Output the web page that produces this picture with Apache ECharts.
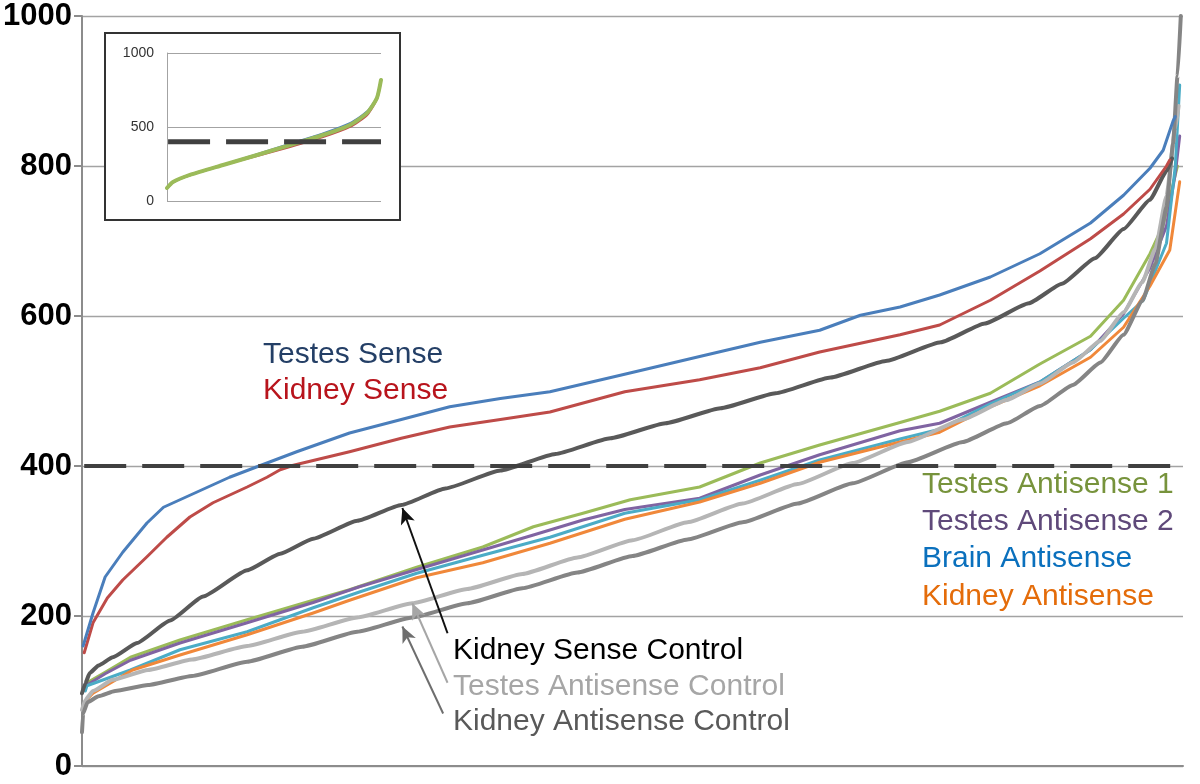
<!DOCTYPE html>
<html>
<head>
<meta charset="utf-8">
<script src="https://cdn.jsdelivr.net/npm/echarts@6/dist/echarts.min.js"></script>
<style>html,body{margin:0;padding:0;background:#fff}#c{width:1200px;height:784px}</style>
</head>
<body>
<div id="c"></div>
<script>
// ---- data: [rank percentile, value] ----
var testesSense = [[0.1,160],[1.0,204],[2.1,252],[3.7,285],[5.9,324],[7.4,345],[10.4,365],[13.4,385],[15.9,399],[19.5,419],[24.3,444],[29.0,462],[33.4,479],[38.0,490],[42.5,499],[48.9,521],[56.1,546],[61.6,565],[67.0,581],[70.7,601],[74.3,612],[77.9,628],[82.5,652],[87.0,683],[91.6,724],[94.6,761],[97.0,797],[98.2,821],[99.1,860],[99.3,866]];
var kidneySense = [[0.2,151],[1.0,191],[2.3,224],[3.7,248],[5.9,279],[7.7,305],[9.8,332],[11.9,351],[15.0,372],[16.8,385],[18.0,395],[19.2,401],[24.3,419],[29.0,437],[33.4,452],[38.0,462],[42.5,472],[49.3,499],[56.1,515],[61.6,531],[67.0,552],[74.3,575],[77.9,588],[82.5,621],[87.0,660],[91.6,703],[94.6,736],[97.0,769],[98.5,800],[98.8,808]];
var kidneySenseControl = [[0,97],[0.3,110],[0.7,124],[1.5,134],[2.8,145],[5,164],[8,194],[11,226],[15,261],[18,283],[21,303],[25,327],[29,348],[33,370],[38,394],[43,416],[48,437],[53,457],[58,477],[63,497],[68,518],[73,540],[78,565],[82,590],[86,617],[89,643],[92,677],[94.6,716],[97,755],[98.5,793],[99.0,810]];
var testesAntisense1 = [[0.45,111],[2.1,125],[4.4,145],[8.9,168],[15.0,195],[21.0,221],[24.3,235],[30.4,265],[36.4,292],[41.0,319],[45.5,337],[49.8,355],[56.1,372],[61.6,404],[67.0,428],[74.3,458],[77.9,473],[82.5,497],[87.0,536],[91.6,573],[94.6,621],[97.0,683],[98.2,721],[99.0,770],[99.5,800]];
var testesAntisense2 = [[0.45,108],[2.1,123],[4.4,141],[8.9,164],[15.0,191],[21.0,218],[25.2,239],[30.4,262],[36.4,288],[41.0,308],[45.5,328],[49.3,342],[56.1,357],[61.6,388],[67.0,415],[74.3,447],[77.9,457],[82.5,485],[87.0,512],[91.6,555],[94.6,603],[97.0,664],[98.5,720],[99.3,790],[99.7,840]];
var brainAntisense = [[0.3,100],[0.45,107],[4.4,128],[8.9,155],[15.0,179],[21.0,211],[25.2,232],[30.4,257],[36.4,281],[42.5,305],[49.3,337],[56.1,355],[61.6,381],[67.0,408],[74.3,436],[77.9,449],[82.5,483],[87.0,512],[91.6,555],[94.6,597],[96.4,621],[98.5,697],[99.3,800],[99.7,908]];
var kidneyAntisense = [[0.4,88],[1.0,97],[4.6,128],[8.9,148],[15.0,175],[21.0,204],[24.3,221],[30.4,251],[36.4,271],[42.5,297],[49.3,329],[56.1,352],[61.6,377],[67.0,405],[74.3,432],[77.9,445],[82.5,479],[87.0,507],[91.6,545],[94.6,585],[97.0,640],[98.8,688],[99.7,779]];
var testesAntisenseControl = [[0,75],[0.3,88],[1,100],[2.8,115],[6,128],[10,142],[15,160],[20,179],[25,198],[30,217],[35,236],[40,256],[45,278],[50,301],[55,325],[60,350],[65,376],[70,404],[75,432],[80,462],[84,488],[87,510],[90,538],[92.5,567],[94.6,605],[96.3,645],[97.5,690],[98.5,760],[99.3,850],[99.6,880]];
var kidneyAntisenseControl = [[0,45],[0.1,70],[0.5,85],[1.5,93],[3,100],[6,108],[10,120],[15,139],[20,159],[25,179],[30,198],[35,217],[40,237],[45,258],[50,280],[55,302],[60,325],[65,350],[70,377],[75,405],[80,432],[84,457],[87,480],[90,508],[92.5,538],[94.6,575],[96.3,620],[97.5,670],[98.5,745],[99.1,830],[99.5,920],[99.8,1000]];
var thresholdLine = [[0.2,400],[100,400]];
// inset
var insetX = [0,2.8,10.7,26.2,42.1,57.5,72.9,85.5,93.5,98.1,100];
var insetGreen = [88,128,176,243,311,378,446,514,595,696,818];
var insetRed = [88,128,176,243,305,366,433,502,582,690,815];
var insetBlue = [88,128,176,243,315,386,455,524,603,700,820];
var insetThreshold = [[0.5,400],[100,400]];
var yTicksMain = {min:0, max:1000, interval:200};
var yTicksInset = {min:0, max:1000, interval:500};

function zip(xs, ys){ return xs.map(function(x,i){return [x, ys[i]];}); }
function plain(v){ return String(v); }

var FONT = 'Liberation Sans, Arial, Helvetica, sans-serif';
var chart = echarts.init(document.getElementById('c'));

function line(name, data, color, width, z, extra){
  var s = {name:name, type:'line', data:data, showSymbol:false, symbol:'none',
    smooth:false, lineStyle:{color:color, width:width, join:'round', cap:'round'}, z:z, silent:true};
  if (extra) for (var k in extra) s[k]=extra[k];
  return s;
}
var smoothCtl = {smooth:0.15, smoothMonotone:'x'};

var arrows = [
  [{coord:[33.2,177]},{coord:[29.1,344], lineStyle:{color:'#111'}}],
  [{coord:[33.2,111]},{coord:[30.0,217], lineStyle:{color:'#a6a6a6'}}],
  [{coord:[32.8,70]},{coord:[29.1,186], lineStyle:{color:'#6e6e6e'}}]
];

var option = {
  animation:false,
  backgroundColor:'#fff',
  grid:[
    {left:82, right:17, top:16, bottom:18, outerBoundsMode:'none', containLabel:false},
    {left:167, top:53, width:214, height:148, z:2, outerBoundsMode:'none', containLabel:false}
  ],
  xAxis:[
    {type:'value', gridIndex:0, min:0, max:100, axisLabel:{show:false}, axisTick:{show:false}, splitLine:{show:false},
      axisLine:{show:true, lineStyle:{color:'#8c8c8c', width:2}}},
    {type:'value', gridIndex:1, min:0, max:100, axisLabel:{show:false}, axisTick:{show:false}, splitLine:{show:false},
      axisLine:{show:false}, z:2}
  ],
  yAxis:[
    {type:'value', gridIndex:0, min:yTicksMain.min, max:yTicksMain.max, interval:yTicksMain.interval,
      axisLine:{show:true, lineStyle:{color:'#8c8c8c', width:2}},
      axisTick:{show:true, length:8, lineStyle:{color:'#8c8c8c', width:2}},
      axisLabel:{color:'#000', fontSize:31, fontWeight:'bold', fontFamily:FONT, margin:10, formatter:plain},
      splitLine:{show:true, lineStyle:{color:'#a3a3a3', width:1.3}}},
    {type:'value', gridIndex:1, min:yTicksInset.min, max:yTicksInset.max, interval:yTicksInset.interval, z:2,
      axisLine:{show:true, lineStyle:{color:'#a3a3a3', width:1}},
      axisTick:{show:false},
      axisLabel:{color:'#333', fontSize:14, fontFamily:FONT, margin:13, formatter:plain},
      splitLine:{show:true, lineStyle:{color:'#a3a3a3', width:1}}}
  ],
  series:[
    line('Testes Antisense 1', testesAntisense1, '#9bbb59', 3, 3),
    line('Testes Antisense 2', testesAntisense2, '#8064a2', 3, 3),
    line('Brain Antisense', brainAntisense, '#4bacc6', 3, 3),
    line('Kidney Antisense', kidneyAntisense, '#f0883a', 3, 3),
    line('Testes Antisense Control', testesAntisenseControl, '#b5b5b5', 4, 4, smoothCtl),
    line('Kidney Antisense Control', kidneyAntisenseControl, '#858585', 4, 4, smoothCtl),
    line('Kidney Sense Control', kidneySenseControl, '#595959', 4, 4, smoothCtl),
    line('Kidney Sense', kidneySense, '#be4b48', 3, 4),
    line('Testes Sense', testesSense, '#4a7ebb', 3, 4),
    {name:'threshold', type:'line', data:thresholdLine, showSymbol:false, symbol:'none', z:6, silent:true,
      lineStyle:{color:'#404040', width:4, type:[42,16]},
      markLine:{silent:true, symbol:['none','arrow'], symbolSize:[11,16], label:{show:false},
        lineStyle:{width:2, type:'solid'}, data:arrows}},
    line('inset red', zip(insetX, insetRed), '#c0504d', 2.5, 6, {xAxisIndex:1, yAxisIndex:1, smooth:0.2}),
    line('inset blue', zip(insetX, insetBlue), '#4f81bd', 2.5, 6, {xAxisIndex:1, yAxisIndex:1, smooth:0.2}),
    line('inset green', zip(insetX, insetGreen), '#9bbb59', 4, 7, {xAxisIndex:1, yAxisIndex:1, smooth:0.2}),
    {name:'inset threshold', type:'line', xAxisIndex:1, yAxisIndex:1, data:insetThreshold, showSymbol:false, symbol:'none', z:8, silent:true,
      lineStyle:{color:'#404040', width:5, type:[42,16]}}
  ],
  graphic:[
    {type:'rect', shape:{x:105, y:33, width:295, height:187}, style:{fill:'#fff', stroke:'#333', lineWidth:2}, z:1, silent:true},
    {type:'text', left:263, top:340, style:{text:'Testes Sense', fill:'#243f66', font:'30px '+FONT}, z:10},
    {type:'text', left:263, top:376, style:{text:'Kidney Sense', fill:'#b8141c', font:'30px '+FONT}, z:10},
    {type:'text', left:922, top:470, style:{text:'Testes Antisense 1', fill:'#77933c', font:'30px '+FONT}, z:10},
    {type:'text', left:922, top:507, style:{text:'Testes Antisense 2', fill:'#5f497a', font:'30px '+FONT}, z:10},
    {type:'text', left:922, top:544, style:{text:'Brain Antisense', fill:'#0a70bd', font:'30px '+FONT}, z:10},
    {type:'text', left:922, top:582, style:{text:'Kidney Antisense', fill:'#e46c0a', font:'30px '+FONT}, z:10},
    {type:'text', left:453, top:636, style:{text:'Kidney Sense Control', fill:'#000', font:'30px '+FONT}, z:10},
    {type:'text', left:453, top:672, style:{text:'Testes Antisense Control', fill:'#a6a6a6', font:'30px '+FONT}, z:10},
    {type:'text', left:453, top:707, style:{text:'Kidney Antisense Control', fill:'#595959', font:'30px '+FONT}, z:10}
  ]
};
chart.setOption(option);
</script>
</body>
</html>
